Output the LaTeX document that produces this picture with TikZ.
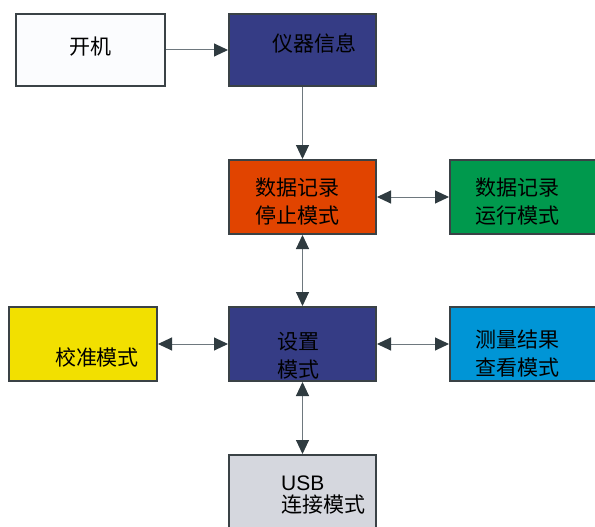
\documentclass[tikz,border=0pt]{standalone}
\usepackage{fontspec}
\setmainfont{Noto Sans CJK SC}
\usetikzlibrary{arrows.meta}
\definecolor{bord}{RGB}{58,66,70}
\definecolor{arrdark}{RGB}{47,59,64}
\definecolor{linegray}{RGB}{110,120,126}
\definecolor{dblue}{RGB}{53,60,133}
\definecolor{orng}{RGB}{225,68,0}
\definecolor{grn}{RGB}{0,153,77}
\definecolor{yel}{RGB}{242,224,0}
\definecolor{lblue}{RGB}{0,149,214}
\definecolor{lgray}{RGB}{213,215,222}
\definecolor{wbox}{RGB}{251,252,254}
\begin{document}
\begin{tikzpicture}[x=1pt,y=-1pt,
  box/.style={draw=bord,line width=2pt,inner sep=0pt},
  txt/.style={font=\fontsize{21}{28}\selectfont,text=black,align=left,inner sep=0pt},
  arr/.style={draw=linegray,line width=1pt,-{Triangle[length=14pt,width=13pt,color=arrdark]}},
  darr/.style={draw=linegray,line width=1pt,{Triangle[length=14pt,width=13pt,color=arrdark]}-{Triangle[length=14pt,width=13pt,color=arrdark]}}]
\useasboundingbox (0,0) rectangle (595,527);
\fill[white] (0,0) rectangle (595,527);
\node[box,fill=wbox,minimum width=149pt,minimum height=72pt] (kj) at (90.5,50) {};
\node[box,fill=dblue,minimum width=147pt,minimum height=72pt] (yq) at (302.5,50) {};
\node[box,fill=orng,minimum width=147pt,minimum height=74pt] (stop) at (302.5,197) {};
\node[box,fill=grn,minimum width=147pt,minimum height=74pt] (run) at (523.5,197) {};
\node[box,fill=yel,minimum width=148pt,minimum height=74pt] (cal) at (83,344) {};
\node[box,fill=dblue,minimum width=147pt,minimum height=74pt] (set) at (302.5,344) {};
\node[box,fill=lblue,minimum width=147pt,minimum height=74pt] (meas) at (523.5,344) {};
\node[box,fill=lgray,minimum width=147pt,minimum height=76pt] (usb) at (302.5,493) {};
\node[txt] (tkj) at (90,47) {开机};
\node[txt] (tyq) at (314,43) {仪器信息};
\node[txt] (tstop) at (297,202) {数据记录\\停止模式};
\node[txt] (trun) at (517,202) {数据记录\\运行模式};
\node[txt] (tcal) at (97,357) {校准模式};
\node[txt] (tset) at (298,356) {设置\\模式};
\node[txt] (tmeas) at (517,354) {测量结果\\查看模式};
\node[txt,anchor=north west] (tusb) at (281,476) {\fontspec{Liberation Sans}USB\\[-6pt]连接模式};
\draw[arr] (kj) -- (yq);
\draw[arr] (yq) -- (stop);
\draw[darr] (stop) -- (run);
\draw[darr] (stop) -- (set);
\draw[darr] (cal) -- (set);
\draw[darr] (set) -- (meas);
\draw[darr] (set) -- (usb);
\end{tikzpicture}
\end{document}
